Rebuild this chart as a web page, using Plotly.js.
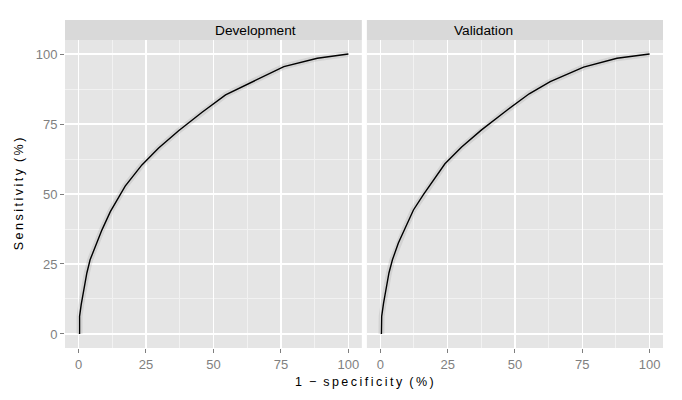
<!DOCTYPE html>
<html>
<head>
<meta charset="utf-8">
<script src="https://cdn.plot.ly/plotly-3.0.1.min.js"></script>
<style>
  html, body { margin: 0; padding: 0; background: #fff; }
  #chart { width: 682px; height: 400px; }
</style>
</head>
<body>
<div id="chart"></div>
<script>
// ROC curves (1 - specificity %, sensitivity %)
const panels = ["Development", "Validation"];

const devFpr = [0.4, 0.4, 1.0, 1.9, 3.1, 4.3, 6.2, 8.7, 11.8, 14.8, 17.3, 23.5, 29.7, 37.1, 45.8, 54.5, 63.7, 70, 76.1, 88.5, 100];
const devSens = [0, 6.3, 10.5, 15.8, 21.8, 26.5, 31.3, 37.2, 43.7, 48.8, 52.8, 60.4, 66.4, 72.6, 79.2, 85.4, 89.8, 92.8, 95.5, 98.5, 100];

const valFpr = [0.4, 0.5, 1.2, 2, 3.2, 4.5, 6.7, 9.2, 12.3, 16, 17.8, 24, 30.2, 37.6, 46.3, 55.3, 63.1, 69.5, 75.5, 87.9, 100];
const valSens = [0, 6.3, 11, 15.8, 21.8, 26.5, 32.5, 37.8, 44.3, 49.8, 52.3, 60.8, 66.8, 72.9, 79.4, 85.8, 90.1, 92.8, 95.3, 98.5, 100];

const tickVals = [0, 25, 50, 75, 100];

const series = [[devFpr, devSens], [valFpr, valSens]];
const traces = [];
series.forEach(([x, y], i) => {
  const xa = i === 0 ? "x" : "x2";
  const ya = i === 0 ? "y" : "y2";
  // faint confidence ribbon
  traces.push({
    x: x, y: y, xaxis: xa, yaxis: ya,
    type: "scatter", mode: "lines",
    line: { color: "rgba(0,0,0,0.08)", width: 6 },
    hoverinfo: "skip", showlegend: false,
  });
  traces.push({
    x: x, y: y, xaxis: xa, yaxis: ya,
    type: "scatter", mode: "lines",
    line: { color: "#000", width: 1.4 },
    name: panels[i], showlegend: false,
  });
});

function axis(extra) {
  return Object.assign({
    range: [-5, 105],
    tickvals: tickVals,
    ticks: "outside",
    ticklen: 4,
    tickwidth: 1,
    tickcolor: "#7F7F7F",
    tickfont: { family: "Liberation Sans, Arial, sans-serif", size: 13, color: "#7F7F7F" },
    showgrid: true,
    gridcolor: "#FFFFFF",
    gridwidth: 1.4,
    zeroline: false,
    showline: false,
    minor: { dtick: 12.5, tick0: 12.5, showgrid: true, gridcolor: "#F2F2F2", gridwidth: 1, ticks: "" },
    fixedrange: true,
  }, extra);
}

const dom = [0, 0.939];
const layout = {
  width: 682,
  height: 400,
  margin: { l: 65, r: 19, t: 20, b: 52 },
  paper_bgcolor: "#FFFFFF",
  plot_bgcolor: "#E5E5E5",
  font: { family: "Liberation Sans, Arial, sans-serif", color: "#000" },
  xaxis: axis({ domain: [0, 0.4964], anchor: "y" }),
  xaxis2: axis({ domain: [0.5048, 1], anchor: "y2" }),
  yaxis: axis({
    domain: dom, anchor: "x",
    title: { text: "S\u2009e\u2009n\u2009s\u2009i\u2009t\u2009i\u2009v\u2009i\u2009t\u2009y  (\u2009%\u2009)", font: { size: 12.5, color: "#000" }, standoff: 9 },
  }),
  yaxis2: axis({ domain: dom, anchor: "x2", showticklabels: false, ticks: "" }),
  shapes: [
    { type: "rect", xref: "paper", yref: "paper", x0: 0, x1: 0.4964, y0: 0.939, y1: 1, fillcolor: "#D9D9D9", line: { width: 0 } },
    { type: "rect", xref: "paper", yref: "paper", x0: 0.5048, x1: 1, y0: 0.939, y1: 1, fillcolor: "#D9D9D9", line: { width: 0 } },
  ],
  annotations: [
    { xref: "paper", yref: "paper", x: 0.2482, y: 0.9695, text: panels[0], showarrow: false, yanchor: "middle", font: { size: 13.7, color: "#000" } },
    { xref: "paper", yref: "paper", x: 0.7524, y: 0.9695, text: panels[1], showarrow: false, yanchor: "middle", font: { size: 13.7, color: "#000" } },
    { xref: "paper", yref: "paper", x: 0.5, y: -0.105, text: "1  \u2212  s\u2009p\u2009e\u2009c\u2009i\u2009f\u2009i\u2009c\u2009i\u2009t\u2009y  (\u2009%\u2009)", showarrow: false, yanchor: "middle", font: { size: 12.5, color: "#000" } },
  ],
};

Plotly.newPlot("chart", traces, layout, { displayModeBar: false, staticPlot: true });
</script>
</body>
</html>
